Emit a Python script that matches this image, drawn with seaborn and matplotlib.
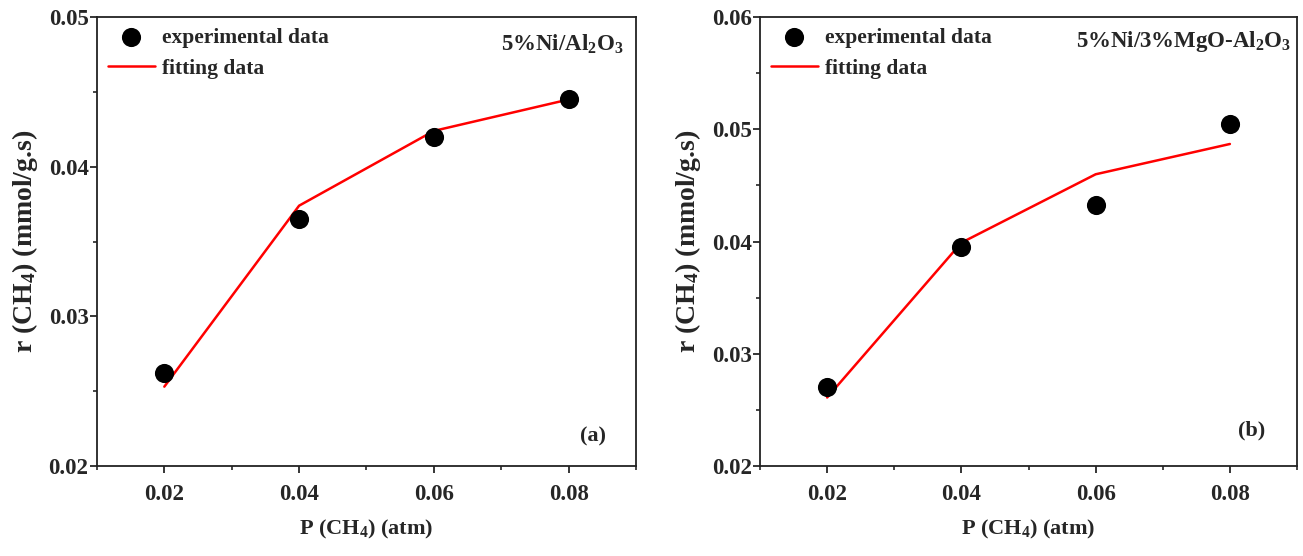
import matplotlib
matplotlib.use("Agg")
import matplotlib.pyplot as plt
import pandas as pd
import seaborn as sns
from matplotlib.ticker import MultipleLocator, FormatStrFormatter

# data
p_ch4 = [0.02, 0.04, 0.06, 0.08]
exp_a = [0.0262, 0.0365, 0.0420, 0.0445]
fit_a = [0.0253, 0.0374, 0.0424, 0.0445]
exp_b = [0.0270, 0.0395, 0.0433, 0.0505]
fit_b = [0.0261, 0.0399, 0.0460, 0.0487]

sns.set_style("ticks")
plt.rcParams["font.family"] = ["Liberation Serif", "DejaVu Serif"]
plt.rcParams["font.weight"] = "bold"
plt.rcParams["axes.labelweight"] = "bold"
plt.rcParams["mathtext.fontset"] = "custom"
plt.rcParams["mathtext.rm"] = "Liberation Serif:bold"
plt.rcParams["mathtext.it"] = "Liberation Serif:bold"
plt.rcParams["mathtext.bf"] = "Liberation Serif:bold"

fig = plt.figure(figsize=(13.03, 5.56), dpi=100)
ax1 = fig.add_axes([0.0744, 0.162, 0.4137, 0.807])
ax2 = fig.add_axes([0.5833, 0.162, 0.4121, 0.807])

panels = [
    (ax1, exp_a, fit_a, (0.02, 0.05), r"5%Ni/Al$_2$O$_3$", "(a)", (0.976, 0.94), (0.92, 0.065)),
    (ax2, exp_b, fit_b, (0.02, 0.06), r"5%Ni/3%MgO-Al$_2$O$_3$", "(b)", (0.989, 0.945), (0.916, 0.08)),
]

for ax, exp, fit, ylim, name, tag, name_pos, tag_pos in panels:
    df = pd.DataFrame({"P": p_ch4, "exp": exp, "fit": fit})
    sns.scatterplot(data=df, x="P", y="exp", ax=ax, color="black", s=190,
                    edgecolor="black", linewidth=0, label="experimental data", zorder=3)
    sns.lineplot(data=df, x="P", y="fit", ax=ax, color="red", linewidth=1.8,
                 label="fitting data", zorder=2)
    ax.set_xlim(0.01, 0.09)
    ax.set_ylim(*ylim)
    ax.set_xticks(p_ch4)
    ax.xaxis.set_minor_locator(MultipleLocator(0.01))
    ax.yaxis.set_major_locator(MultipleLocator(0.01))
    ax.yaxis.set_minor_locator(MultipleLocator(0.005))
    ax.xaxis.set_major_formatter(FormatStrFormatter("%.2f"))
    ax.yaxis.set_major_formatter(FormatStrFormatter("%.2f"))
    ax.tick_params(which="major", direction="out", length=5, width=1.3, labelsize=16.5)
    ax.tick_params(axis="x", which="major", pad=8)
    ax.tick_params(axis="y", which="major", pad=1)
    ax.tick_params(which="minor", direction="out", length=3, width=1.2)
    for sp in ax.spines.values():
        sp.set_linewidth(1.3)
        sp.set_color("#222222")
    ax.set_xlabel(r"P (CH$_4$) (atm)", fontsize=16, labelpad=9)
    ax.set_ylabel(r"r (CH$_4$) (mmol/g.s)", fontsize=20, labelpad=6)
    ax.text(name_pos[0], name_pos[1], name, transform=ax.transAxes, ha="right",
            va="center", fontsize=16.5, fontweight="bold")
    ax.text(tag_pos[0], tag_pos[1], tag, transform=ax.transAxes, ha="center",
            va="center", fontsize=16, fontweight="bold")
    ax.legend(loc="upper left", frameon=False, fontsize=15.5, handlelength=2.2,
              handletextpad=0.3, borderaxespad=0.2, labelspacing=0.5,
              borderpad=0.3)

fig.savefig("out.png", dpi=100)
